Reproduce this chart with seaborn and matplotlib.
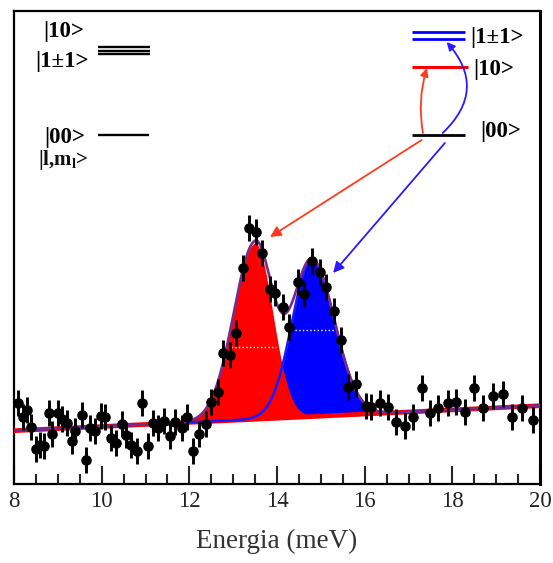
import numpy as np
import pandas as pd
import matplotlib
matplotlib.use("Agg")
import matplotlib.pyplot as plt
import seaborn as sns

# ---- measured points (energy in meV, intensity in arb. units) ----
energy = [8.08, 8.21, 8.29, 8.39, 8.50, 8.59, 8.69, 8.80, 8.87, 9.01,
          9.09, 9.20, 9.32, 9.39, 9.55, 9.64, 9.73, 9.85, 9.99, 10.08,
          10.21, 10.33, 10.46, 10.56, 10.66, 10.80, 10.91, 11.05, 11.18, 11.28,
          11.43, 11.56, 11.67, 11.83, 11.94, 12.08, 12.22, 12.37, 12.50, 12.65,
          12.76, 12.93, 13.07, 13.23, 13.37, 13.52, 13.66, 13.83, 13.96, 14.14,
          14.28, 14.49, 14.62, 14.79, 14.97, 15.12, 15.29, 15.46, 15.63, 15.81,
          16.02, 16.15, 16.35, 16.54, 16.72, 16.91, 17.11, 17.30, 17.49, 17.68,
          17.90, 18.08, 18.29, 18.50, 18.69, 18.92, 19.16, 19.37, 19.58, 19.83]
intensity = [81, 67, 74, 57, 35, 39, 38, 71, 50, 71,
             65, 61, 43, 53, 69, 24, 56, 53, 68, 67,
             46, 41, 60, 49, 39, 33, 81, 38, 61, 56,
             63, 48, 62, 56, 67, 33, 50, 60, 82, 92,
             131, 129, 151, 216, 256, 252, 231, 195, 191, 177,
             157, 202, 190, 223, 212, 197, 173, 144, 97, 100,
             78, 77, 81, 77, 62, 58, 67, 96, 71, 76,
             81, 82, 72, 96, 76, 88, 90, 67, 76, 64]
error = 13

# ---- fit parameters (split Gaussians on linear bg) ----
bg_at_8 = 53.3
bg_slope = 2.08
red_center, red_amp = 13.50, 176.0
red_sigma_left, red_sigma_right = 0.49, 0.40
blue_center, blue_amp = 14.79, 157.0
blue_sigma_left, blue_sigma_right = 0.45, 0.52


def peak(x, c, a, s_left, s_right):
    s = np.where(x < c, s_left, s_right)
    return a * np.exp(-(x - c) ** 2 / (2 * s ** 2))


# ---- figure ----
sns.set_theme(style="ticks")
plt.rcParams["font.family"] = ["Liberation Serif", "DejaVu Serif"]
plt.rcParams["mathtext.fontset"] = "custom"
plt.rcParams["mathtext.rm"] = "Liberation Serif:bold"
plt.rcParams["mathtext.it"] = "Liberation Serif:italic"
plt.rcParams["mathtext.bf"] = "Liberation Serif:bold"

fig = plt.figure(figsize=(5.53, 5.63), dpi=100)
ax = fig.add_axes([14 / 553, 1 - 484 / 563, 526 / 553, 473 / 563])

E = np.linspace(8, 20, 900)
bg = bg_at_8 + bg_slope * (E - 8)
red = peak(E, red_center, red_amp, red_sigma_left, red_sigma_right)
blue = peak(E, blue_center, blue_amp, blue_sigma_left, blue_sigma_right)
total = bg + red + blue

ax.fill_between(E, bg, bg + blue, color="#0000ff", lw=0, zorder=1)
ax.fill_between(E, bg, bg + red, color="#ff0000", lw=0, zorder=2)

curves = pd.DataFrame({"E": E, "bg": bg, "blue": bg + blue, "total": total})
sns.lineplot(data=curves, x="E", y="bg", color="#ff0000", lw=3.4, ax=ax, zorder=3)
sns.lineplot(data=curves, x="E", y="blue", color="#1a1aff", lw=1.8, ax=ax, zorder=4)
sns.lineplot(data=curves, x="E", y="total", color="#7b2a8c", lw=1.9, ax=ax, zorder=5)

# faint white dotted half-height marks
ax.plot([12.95, 13.98], [137, 137], color="white", ls=":", lw=1, zorder=5)
ax.plot([14.41, 15.29], [154, 154], color="white", ls=":", lw=1, zorder=5)

pts = pd.DataFrame({"energy": energy, "intensity": intensity})
ax.errorbar(pts["energy"], pts["intensity"], yerr=error, fmt="none",
            ecolor="black", elinewidth=2.1, capsize=0, zorder=6)
sns.scatterplot(data=pts, x="energy", y="intensity", color="black", s=58,
                edgecolor="black", linewidth=0, ax=ax, zorder=7)

# ---- axes styling ----
ax.set_xlim(8, 20)
ax.set_ylim(0, 473)
ax.set_xticks([8, 10, 12, 14, 16, 18, 20])
ax.set_xticks(np.arange(8, 20.01, 0.5), minor=True)
ax.set_yticks([])
ax.tick_params(axis="x", which="major", direction="in", length=13, width=1.5,
               labelsize=16.5, labelcolor="#222222", pad=5)
ax.tick_params(axis="x", which="minor", direction="in", length=7, width=1.5)
for s in ax.spines.values():
    s.set_linewidth(1.6)
    s.set_color("black")
ax.spines["right"].set_linewidth(2.2)
ax.set_xlabel("Energia (meV)", fontsize=19.5, color="#333333", labelpad=12)
ax.set_ylabel("")

# ---- level diagram, left ----
lab = dict(fontsize=16.5, fontweight="bold", color="black", va="center")
ax.text(9.14, 452, "|10>", ha="center", **lab)
ax.text(9.10, 422, "|1\u00b11>", ha="center", **lab)
for yv in [437.3, 433.3, 429.7]:
    ax.plot([9.92, 11.10], [yv, yv], color="black", lw=1.7, solid_capstyle="butt")
ax.text(9.16, 347, "|00>", ha="center", **lab)
ax.plot([9.92, 11.08], [349, 349], color="black", lw=1.7, solid_capstyle="butt")
ax.text(9.12, 324, r"|l,m$_\mathrm{l}$>", ha="center", va="center",
        fontsize=15, fontweight="bold", color="#111111")

# ---- level diagram, right ----
ax.plot([17.08, 18.29], [451.7, 451.7], color="#0000ff", lw=2, solid_capstyle="butt")
ax.plot([17.08, 18.29], [444.7, 444.7], color="#0000ff", lw=2, solid_capstyle="butt")
ax.plot([17.08, 18.36], [417.3, 417.3], color="#ff0000", lw=2.2, solid_capstyle="butt")
ax.plot([17.08, 18.29], [349, 349], color="black", lw=2, solid_capstyle="butt")
ax.text(18.40, 446, "|1\u00b11>", ha="left", **lab)
ax.text(18.47, 414, "|10>", ha="left", **lab)
ax.text(18.63, 353, "|00>", ha="left", **lab)

ax.annotate("", xy=(17.42, 416), xytext=(17.33, 351),
            arrowprops=dict(arrowstyle="-|>", color="#ff3b1f", lw=1.3,
                            mutation_scale=12, shrinkA=0, shrinkB=0,
                            connectionstyle="arc3,rad=-0.12"))
ax.annotate("", xy=(17.87, 442), xytext=(17.78, 351),
            arrowprops=dict(arrowstyle="-|>", color="#2b1aff", lw=1.3,
                            mutation_scale=12, shrinkA=0, shrinkB=0,
                            connectionstyle="arc3,rad=0.48"))

# long arrows to the peaks
ax.annotate("", xy=(13.84, 247), xytext=(17.30, 344),
            arrowprops=dict(arrowstyle="-|>", color="#ff3b1f", lw=1.3,
                            mutation_scale=16, shrinkA=0, shrinkB=0))
ax.annotate("", xy=(15.28, 211), xytext=(17.83, 341),
            arrowprops=dict(arrowstyle="-|>", color="#2b1aff", lw=1.3,
                            mutation_scale=16, shrinkA=0, shrinkB=0))

fig.savefig("out.png", dpi=100)
